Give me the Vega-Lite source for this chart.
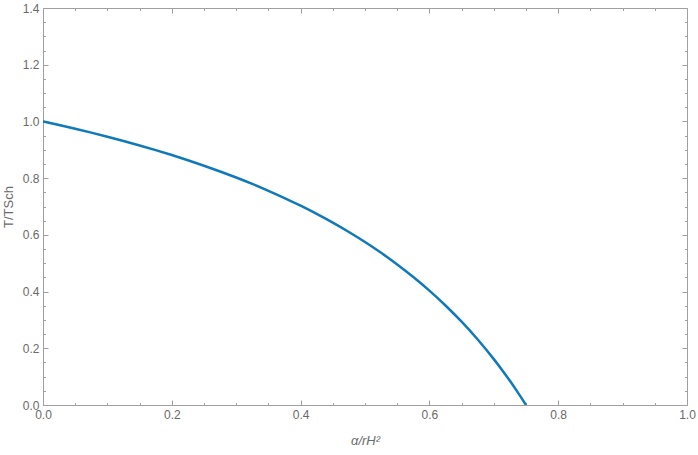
{
  "$schema": "https://vega.github.io/schema/vega-lite/v6.json",
  "width": 644,
  "height": 397,
  "autosize": {"type": "none"},
  "padding": {"left": 43, "top": 8, "right": 11, "bottom": 50},
  "background": "white",
  "config": {
    "view": {"stroke": "#a0a0a0", "strokeWidth": 1},
    "axis": {
      "domain": false,
      "grid": false,
      "labelFont": "Liberation Sans",
      "labelFontSize": 12,
      "labelColor": "#6a6a6a",
      "labelFlush": false,
      "labelOverlap": false,
      "titleFont": "Liberation Sans",
      "titleFontSize": 13,
      "titleFontWeight": "normal",
      "titleColor": "#6a6a6a",
      "tickColor": "#a0a0a0",
      "tickWidth": 1
    }
  },
  "data": {
    "values": [
      {"a": 0.0, "t": 1.0},
      {"a": 0.025, "t": 0.9874},
      {"a": 0.05, "t": 0.97425},
      {"a": 0.075, "t": 0.96051},
      {"a": 0.1, "t": 0.94614},
      {"a": 0.125, "t": 0.9311},
      {"a": 0.15, "t": 0.91533},
      {"a": 0.175, "t": 0.89879},
      {"a": 0.2, "t": 0.88141},
      {"a": 0.225, "t": 0.86313},
      {"a": 0.25, "t": 0.84388},
      {"a": 0.275, "t": 0.82358},
      {"a": 0.3, "t": 0.80214},
      {"a": 0.325, "t": 0.77946},
      {"a": 0.35, "t": 0.75543},
      {"a": 0.375, "t": 0.72993},
      {"a": 0.4, "t": 0.70281},
      {"a": 0.425, "t": 0.67392},
      {"a": 0.45, "t": 0.64309},
      {"a": 0.475, "t": 0.6101},
      {"a": 0.5, "t": 0.57471},
      {"a": 0.525, "t": 0.53667},
      {"a": 0.55, "t": 0.49567},
      {"a": 0.575, "t": 0.45132},
      {"a": 0.6, "t": 0.40323},
      {"a": 0.625, "t": 0.35088},
      {"a": 0.65, "t": 0.29369},
      {"a": 0.675, "t": 0.23095},
      {"a": 0.7, "t": 0.16181},
      {"a": 0.7125, "t": 0.12467},
      {"a": 0.725, "t": 0.08525},
      {"a": 0.7375, "t": 0.04353},
      {"a": 0.75, "t": 0.0}
    ]
  },
  "resolve": {"axis": {"x": "independent", "y": "independent"}},
  "layer": [
    {
      "mark": {"type": "line", "color": "#1079ba", "strokeWidth": 2.5, "clip": true, "interpolate": "monotone"},
      "encoding": {
        "x": {
          "field": "a", "type": "quantitative",
          "scale": {"domain": [0, 1], "nice": false, "zero": false},
          "axis": {"orient": "bottom", "values": [0, 0.2, 0.4, 0.6, 0.8, 1.0], "format": ".1f", "tickSize": -5, "labelPadding": 9, "title": "α/rH²", "titleFontStyle": "italic", "titlePadding": 14}
        },
        "y": {
          "field": "t", "type": "quantitative",
          "scale": {"domain": [0, 1.4], "nice": false, "zero": false},
          "axis": {"orient": "left", "values": [0, 0.2, 0.4, 0.6, 0.8, 1.0, 1.2, 1.4], "format": ".1f", "tickSize": -5, "labelPadding": 9, "title": "T/TSch", "titlePadding": 7}
        }
      }
    },
    {
      "mark": {"type": "point", "opacity": 0},
      "encoding": {
        "x": {
          "field": "a", "type": "quantitative",
          "axis": {"orient": "bottom", "values": [0.05, 0.1, 0.15, 0.25, 0.3, 0.35, 0.45, 0.5, 0.55, 0.65, 0.7, 0.75, 0.85, 0.9, 0.95], "labels": false, "tickSize": -2.5, "title": null}
        },
        "y": {
          "field": "t", "type": "quantitative",
          "axis": {"orient": "left", "values": [0.05, 0.1, 0.15, 0.25, 0.3, 0.35, 0.45, 0.5, 0.55, 0.65, 0.7, 0.75, 0.85, 0.9, 0.95, 1.05, 1.1, 1.15, 1.25, 1.3, 1.35], "labels": false, "tickSize": -2.5, "title": null}
        }
      }
    },
    {
      "mark": {"type": "point", "opacity": 0},
      "encoding": {
        "x": {
          "field": "a", "type": "quantitative",
          "axis": {"orient": "top", "values": [0, 0.2, 0.4, 0.6, 0.8, 1.0], "labels": false, "tickSize": -5, "title": null}
        },
        "y": {
          "field": "t", "type": "quantitative",
          "axis": {"orient": "right", "values": [0, 0.2, 0.4, 0.6, 0.8, 1.0, 1.2, 1.4], "labels": false, "tickSize": -5, "title": null}
        }
      }
    },
    {
      "mark": {"type": "point", "opacity": 0},
      "encoding": {
        "x": {
          "field": "a", "type": "quantitative",
          "axis": {"orient": "top", "values": [0.05, 0.1, 0.15, 0.25, 0.3, 0.35, 0.45, 0.5, 0.55, 0.65, 0.7, 0.75, 0.85, 0.9, 0.95], "labels": false, "tickSize": -2.5, "title": null}
        },
        "y": {
          "field": "t", "type": "quantitative",
          "axis": {"orient": "right", "values": [0.05, 0.1, 0.15, 0.25, 0.3, 0.35, 0.45, 0.5, 0.55, 0.65, 0.7, 0.75, 0.85, 0.9, 0.95, 1.05, 1.1, 1.15, 1.25, 1.3, 1.35], "labels": false, "tickSize": -2.5, "title": null}
        }
      }
    }
  ]
}
